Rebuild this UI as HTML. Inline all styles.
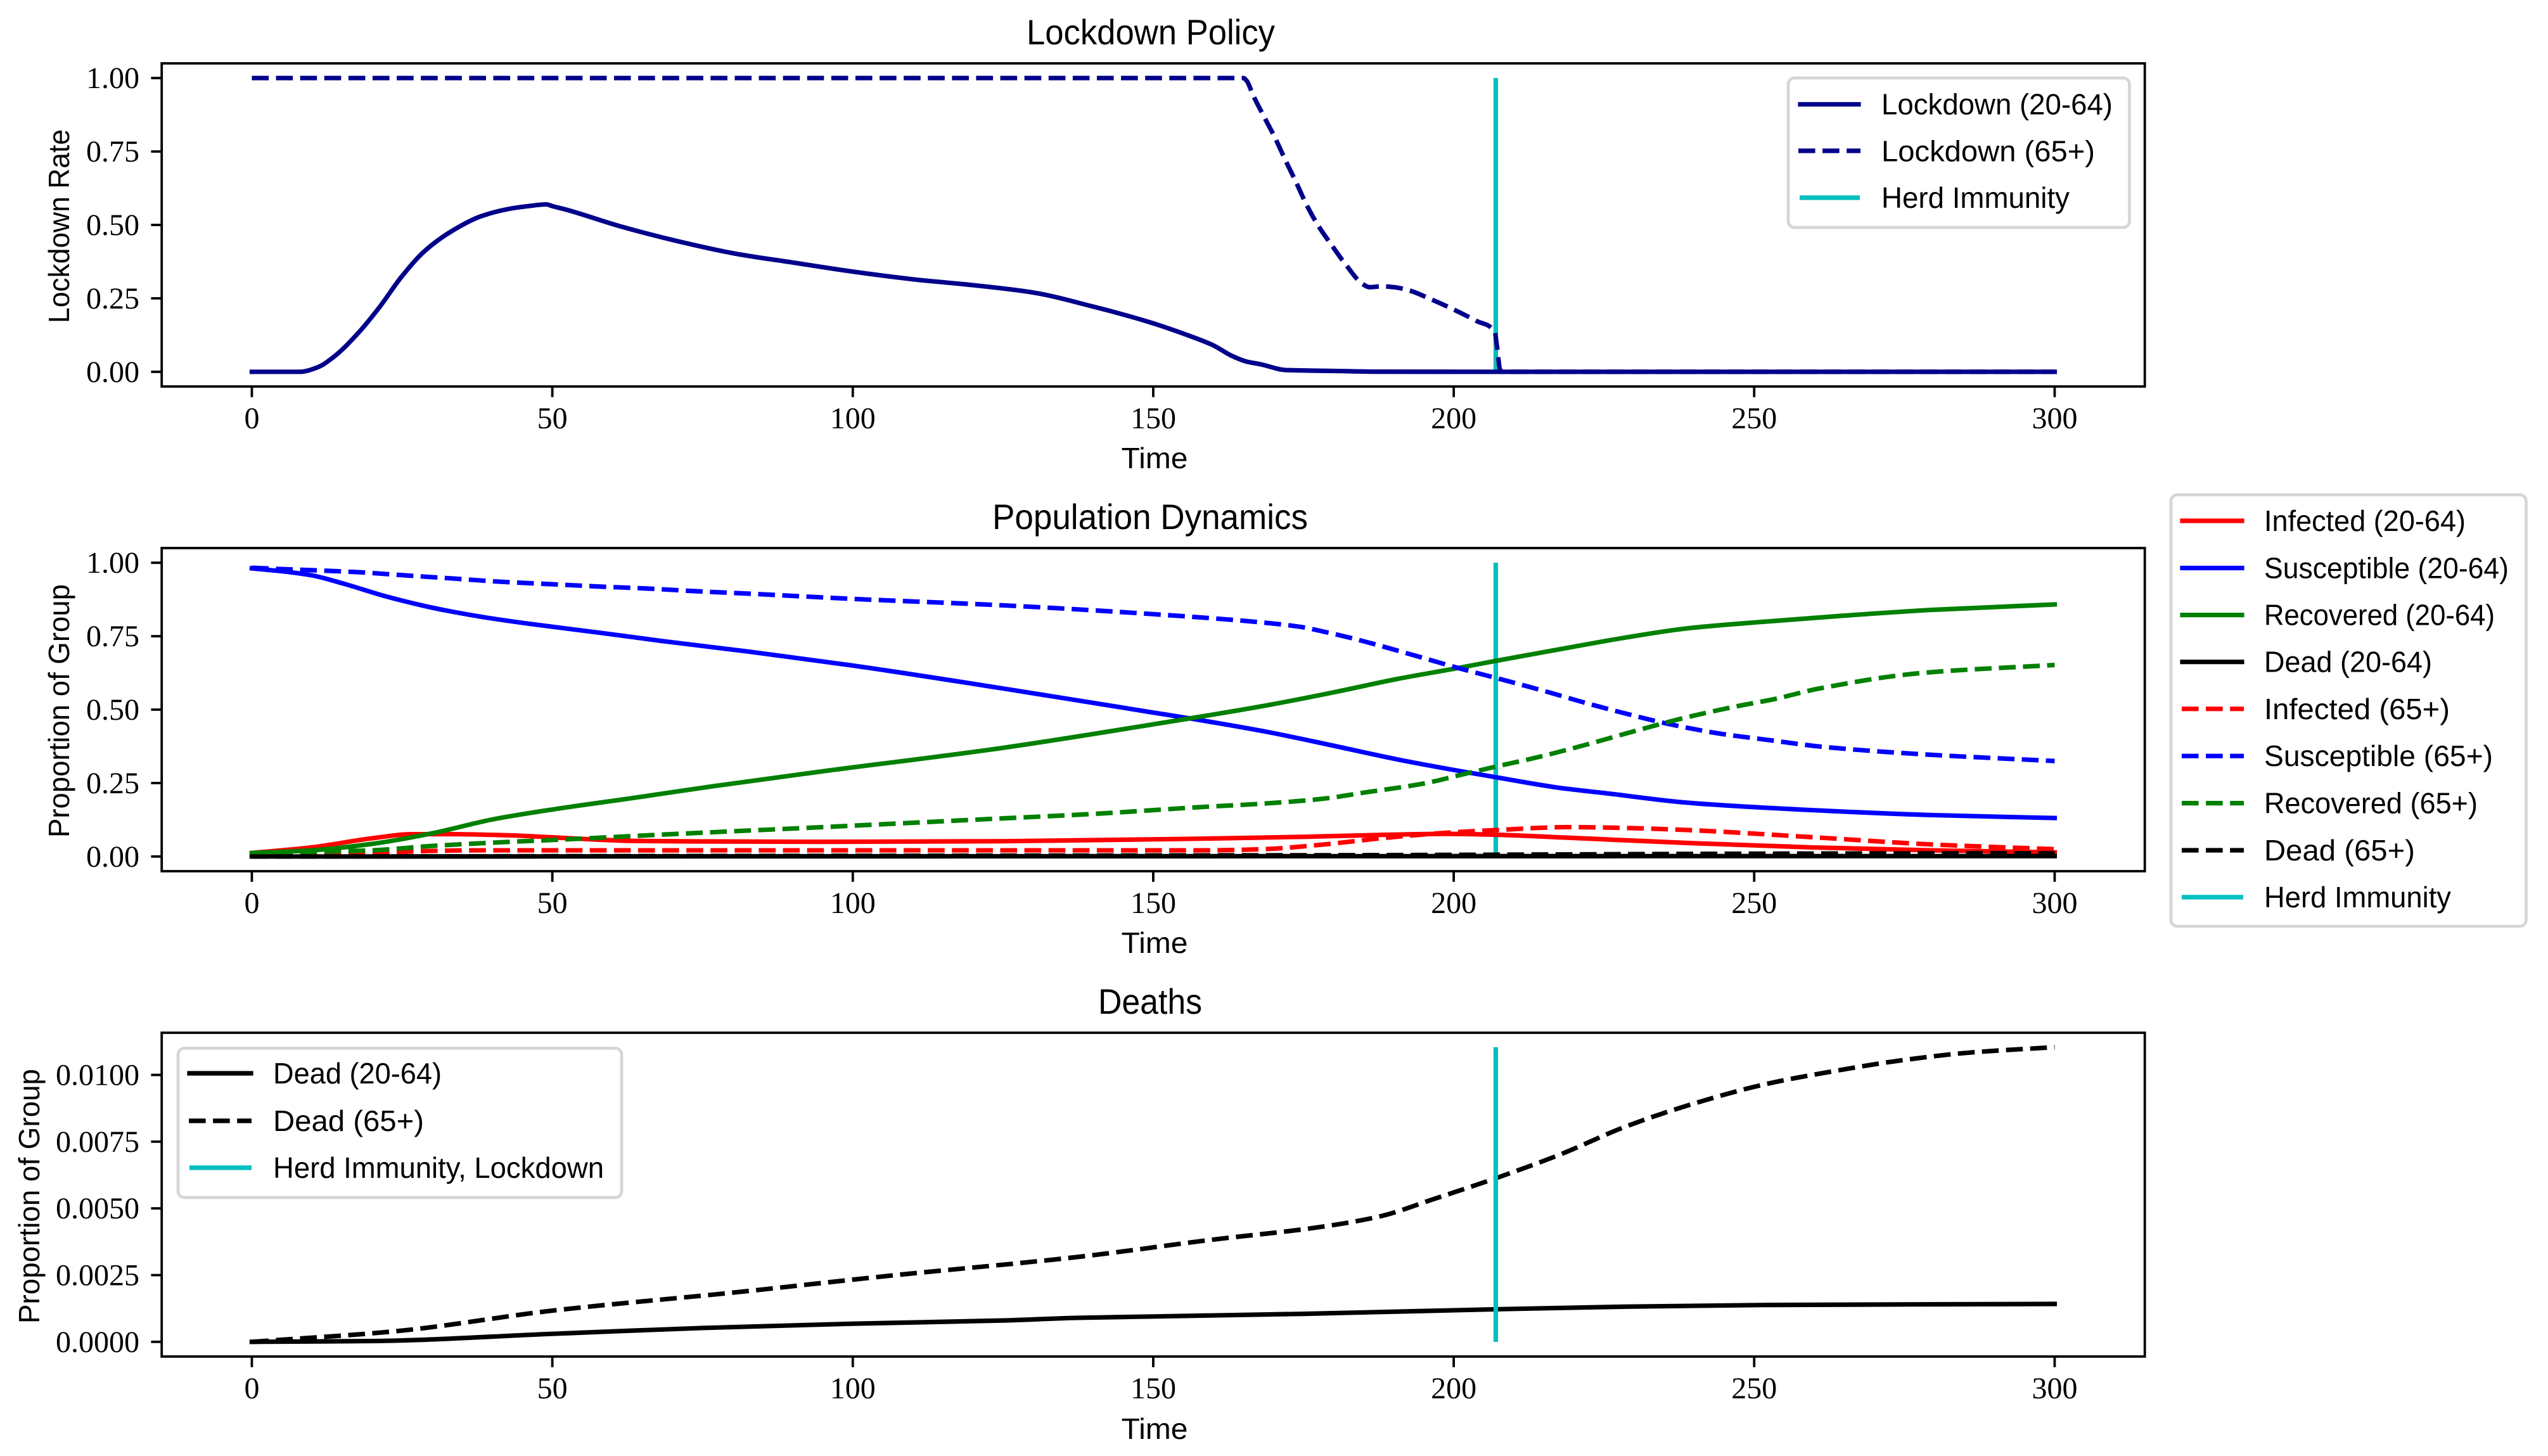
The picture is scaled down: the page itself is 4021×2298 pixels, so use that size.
<!DOCTYPE html>
<html lang="en">
<head>
<meta charset="utf-8">
<title>Lockdown Policy, Population Dynamics and Deaths</title>
<style>
html,body{margin:0;padding:0;background:#fff;}
svg{display:block;}
.sans{font-family:"Liberation Sans",sans-serif;fill:#000;}
.serif{font-family:"Liberation Serif",serif;fill:#000;}
.lg{font-size:46.5px;}
.ti{font-size:56px;text-anchor:middle;}
.ax{font-size:46.5px;text-anchor:middle;}
.frame{fill:rgba(255,255,255,.8);stroke:rgba(204,204,204,.8);stroke-width:4.8;}
.h{stroke-width:7.2;fill:none;}
.d{stroke-dasharray:26.6 11.5;}
.s{stroke-linecap:square;}
</style>
</head>
<body>
<svg id="fig" xmlns="http://www.w3.org/2000/svg" width="4021" height="2298" viewBox="0 0 4021 2298">
  <rect width="4021" height="2298" fill="#fff"/>

  <text class="sans ti" x="1816" y="70" textLength="392" lengthAdjust="spacingAndGlyphs">Lockdown Policy</text>
  <text class="sans ti" x="1815" y="835" textLength="498" lengthAdjust="spacingAndGlyphs">Population Dynamics</text>
  <text class="sans ti" x="1815" y="1600" textLength="164" lengthAdjust="spacingAndGlyphs">Deaths</text>

  <text class="sans ax" x="1822" y="739" textLength="105" lengthAdjust="spacingAndGlyphs">Time</text>
  <text class="sans ax" x="1822" y="1504" textLength="105" lengthAdjust="spacingAndGlyphs">Time</text>
  <text class="sans ax" x="1822" y="2271" textLength="105" lengthAdjust="spacingAndGlyphs">Time</text>

  <text class="sans ax" transform="translate(109 357) rotate(-90)" textLength="306" lengthAdjust="spacingAndGlyphs">Lockdown Rate</text>
  <text class="sans ax" transform="translate(109 1122) rotate(-90)" textLength="400" lengthAdjust="spacingAndGlyphs">Proportion of Group</text>
  <text class="sans ax" transform="translate(62 1888) rotate(-90)" textLength="402" lengthAdjust="spacingAndGlyphs">Proportion of Group</text>

  <g id="panel1"></g>
  <g id="panel2"></g>
  <g id="panel3"></g>

  <g>
    <rect class="frame" x="2822" y="123" width="538.5" height="236" rx="10"/>
    <g>
      <line class="h s" x1="2841" x2="2933" y1="164.7" y2="164.7" stroke="#00008b"/>
      <text class="sans lg" x="2969" y="180.5" textLength="365" lengthAdjust="spacingAndGlyphs">Lockdown (20-64)</text>
    </g>
    <g>
      <line class="h d" x1="2838" x2="2936" y1="238" y2="238" stroke="#00008b"/>
      <text class="sans lg" x="2969" y="254.5" textLength="337" lengthAdjust="spacingAndGlyphs">Lockdown (65+)</text>
    </g>
    <g>
      <line class="h" x1="2840" x2="2935" y1="312" y2="312" stroke="#00bfbf"/>
      <text class="sans lg" x="2969" y="328" textLength="297" lengthAdjust="spacingAndGlyphs">Herd Immunity</text>
    </g>
  </g>

  <g>
    <rect class="frame" x="3426" y="781" width="560.5" height="681" rx="10"/>
    <g>
      <line class="h s" x1="3444" x2="3538" y1="822" y2="822" stroke="#ff0000"/>
      <text class="sans lg" x="3573" y="838" textLength="318" lengthAdjust="spacingAndGlyphs">Infected (20-64)</text>
    </g>
    <g>
      <line class="h s" x1="3444" x2="3538" y1="896.5" y2="896.5" stroke="#0000ff"/>
      <text class="sans lg" x="3573" y="912.5" textLength="386" lengthAdjust="spacingAndGlyphs">Susceptible (20-64)</text>
    </g>
    <g>
      <line class="h s" x1="3444" x2="3538" y1="970.6" y2="970.6" stroke="#008000"/>
      <text class="sans lg" x="3573" y="986.6" textLength="364" lengthAdjust="spacingAndGlyphs">Recovered (20-64)</text>
    </g>
    <g>
      <line class="h s" x1="3444" x2="3538" y1="1044.7" y2="1044.7" stroke="#000"/>
      <text class="sans lg" x="3573" y="1060.7" textLength="265" lengthAdjust="spacingAndGlyphs">Dead (20-64)</text>
    </g>
    <g>
      <line class="h d" x1="3443" x2="3541" y1="1118.8" y2="1118.8" stroke="#ff0000"/>
      <text class="sans lg" x="3573" y="1134.8" textLength="293" lengthAdjust="spacingAndGlyphs">Infected (65+)</text>
    </g>
    <g>
      <line class="h d" x1="3443" x2="3541" y1="1193.2" y2="1193.2" stroke="#0000ff"/>
      <text class="sans lg" x="3573" y="1209.2" textLength="361" lengthAdjust="spacingAndGlyphs">Susceptible (65+)</text>
    </g>
    <g>
      <line class="h d" x1="3443" x2="3541" y1="1267.6" y2="1267.6" stroke="#008000"/>
      <text class="sans lg" x="3573" y="1283.6" textLength="337" lengthAdjust="spacingAndGlyphs">Recovered (65+)</text>
    </g>
    <g>
      <line class="h d" x1="3443" x2="3541" y1="1342" y2="1342" stroke="#000"/>
      <text class="sans lg" x="3573" y="1358" textLength="238" lengthAdjust="spacingAndGlyphs">Dead (65+)</text>
    </g>
    <g>
      <line class="h" x1="3443" x2="3540" y1="1416" y2="1416" stroke="#00bfbf"/>
      <text class="sans lg" x="3573" y="1432" textLength="295" lengthAdjust="spacingAndGlyphs">Herd Immunity</text>
    </g>
  </g>

  <g>
    <rect class="frame" x="281" y="1654.5" width="700" height="235.5" rx="10"/>
    <g>
      <line class="h s" x1="299" x2="396" y1="1694" y2="1694" stroke="#000"/>
      <text class="sans lg" x="431" y="1710" textLength="266" lengthAdjust="spacingAndGlyphs">Dead (20-64)</text>
    </g>
    <g>
      <line class="h d" x1="298" x2="397" y1="1769" y2="1769" stroke="#000"/>
      <text class="sans lg" x="431" y="1785" textLength="238" lengthAdjust="spacingAndGlyphs">Dead (65+)</text>
    </g>
    <g>
      <line class="h" x1="299" x2="397" y1="1843" y2="1843" stroke="#00bfbf"/>
      <text class="sans lg" x="431" y="1859" textLength="522" lengthAdjust="spacingAndGlyphs">Herd Immunity, Lockdown</text>
    </g>
  </g>
</svg>

<script>
// ---- tick labels ----
var xTicks = [0, 50, 100, 150, 200, 250, 300];
var rateTicks = [0, 0.25, 0.5, 0.75, 1];
var rateTickLabels = ["0.00", "0.25", "0.50", "0.75", "1.00"];
var deathTicks = [0, 0.0025, 0.005, 0.0075, 0.01];
var deathTickLabels = ["0.0000", "0.0025", "0.0050", "0.0075", "0.0100"];

// ---- herd immunity day ----
var herdImmunityDay = 207;

// ---- lockdown policy ----
var lockdownYoungDays = [0, 8, 10.9, 13.7, 17.5, 21.2, 25, 28.8, 33.5, 38.2, 42.9, 46, 49, 50, 52.3, 61.7, 71, 80.5, 90, 100, 110, 120, 130, 140, 145, 150, 155, 160, 163, 165.5, 168, 172, 180, 187, 207, 300];
var lockdownYoungValues = [0, 0, 0.015, 0.052, 0.1275, 0.219, 0.326, 0.412, 0.482, 0.53, 0.555, 0.564, 0.57, 0.564, 0.552, 0.493, 0.444, 0.402, 0.372, 0.341, 0.315, 0.295, 0.27, 0.222, 0.195, 0.165, 0.13, 0.09, 0.055, 0.035, 0.025, 0.006, 0.003, 0.0005, 0, 0];
var lockdownOldDays = [0, 165, 165.6, 166.6, 168.5, 170.3, 172, 173.8, 175.5, 177.5, 179.8, 182.1, 184.9, 186, 188.1, 190.1, 192.6, 196.1, 200, 203.7, 206.8, 207.2, 207.7, 208, 300];
var lockdownOldValues = [1, 1, 0.989, 0.942, 0.866, 0.795, 0.72, 0.644, 0.569, 0.496, 0.428, 0.363, 0.298, 0.288, 0.291, 0.288, 0.277, 0.248, 0.212, 0.174, 0.138, 0.086, 0.008, 0, 0];

// ---- population dynamics, 20-64 ----
var infectedYoungDays = [0, 9.9, 20, 26.7, 33, 43, 53, 63.7, 95, 125, 158.5, 175, 188.8, 199, 207, 219, 239, 259.5, 279.6, 300];
var infectedYoungValues = [0.012, 0.031, 0.062, 0.076, 0.076, 0.072, 0.062, 0.053, 0.05, 0.052, 0.061, 0.067, 0.074, 0.077, 0.074, 0.064, 0.046, 0.031, 0.021, 0.014];
var susceptibleYoungDays = [0, 6.3, 10, 15.4, 22.4, 28.9, 33.2, 39.1, 46.6, 57.4, 68.1, 82.5, 100, 125, 150, 157, 169, 179.8, 190.5, 202.4, 207, 217.5, 225.5, 239, 259.5, 279.6, 300];
var susceptibleYoungValues = [0.981, 0.968, 0.957, 0.928, 0.885, 0.852, 0.834, 0.813, 0.791, 0.763, 0.734, 0.698, 0.65, 0.572, 0.49, 0.467, 0.424, 0.378, 0.331, 0.286, 0.27, 0.234, 0.215, 0.183, 0.158, 0.141, 0.131];
var recoveredYoungDays = [0, 9.9, 20, 30, 40, 50, 63.7, 77, 95, 125, 150, 169, 179.8, 190.5, 200.8, 207, 217.5, 228.2, 239, 253.4, 265, 280, 300];
var recoveredYoungValues = [0.012, 0.021, 0.043, 0.079, 0.126, 0.16, 0.2, 0.24, 0.29, 0.37, 0.45, 0.515, 0.558, 0.604, 0.642, 0.666, 0.705, 0.744, 0.777, 0.802, 0.82, 0.84, 0.858];

// ---- population dynamics, 65+ ----
var infectedOldDays = [0, 20, 28, 37, 95, 158.5, 168.3, 178.4, 188.8, 199, 207, 219, 229, 239, 259.5, 279.6, 300];
var infectedOldValues = [0.005, 0.01, 0.018, 0.021, 0.021, 0.021, 0.025, 0.041, 0.064, 0.081, 0.09, 0.1, 0.097, 0.09, 0.066, 0.041, 0.025];
var susceptibleOldDays = [0, 5.5, 9.5, 17.6, 25.6, 33.7, 41.7, 49.8, 57.8, 66, 74, 82.5, 100, 125, 150, 169, 174.4, 178.7, 182.5, 186.6, 194.4, 201.4, 207, 214.8, 222.8, 229.3, 235.8, 244.4, 253.4, 260.6, 278, 300];
var susceptibleOldValues = [0.983, 0.978, 0.975, 0.968, 0.957, 0.946, 0.935, 0.927, 0.919, 0.912, 0.903, 0.895, 0.877, 0.855, 0.825, 0.795, 0.782, 0.764, 0.746, 0.724, 0.679, 0.638, 0.608, 0.565, 0.518, 0.483, 0.451, 0.418, 0.394, 0.375, 0.348, 0.325];
var recoveredOldDays = [0, 20, 30, 43, 53, 63.7, 77, 95, 120, 140, 158.5, 168.3, 178.4, 185.2, 194.9, 202.4, 207, 214.8, 222.8, 231, 239, 247, 253.4, 260.6, 278, 300];
var recoveredOldValues = [0.012, 0.021, 0.036, 0.05, 0.059, 0.07, 0.083, 0.1, 0.125, 0.145, 0.169, 0.18, 0.197, 0.218, 0.248, 0.284, 0.306, 0.342, 0.385, 0.432, 0.475, 0.511, 0.536, 0.571, 0.625, 0.652];

// ---- deaths ----
var deadYoungDays = [0, 20, 50, 75, 100, 125, 137.4, 150, 175, 207, 228.9, 251.8, 300];
var deadYoungValues = [0, 0.00003, 0.0003, 0.00052, 0.00068, 0.0008, 0.0009, 0.00095, 0.00105, 0.00122, 0.00132, 0.00138, 0.00142];
var deadOldDays = [0, 24, 50, 80.7, 105.8, 137.4, 160.3, 177.4, 187.7, 196.8, 207, 217.4, 228.9, 240.3, 251.8, 263.2, 274.6, 286, 300];
var deadOldValues = [0, 0.0004, 0.00117, 0.00186, 0.00247, 0.00318, 0.00384, 0.00429, 0.0047, 0.00536, 0.00613, 0.00699, 0.00809, 0.00895, 0.00965, 0.01014, 0.01055, 0.01084, 0.01104];

var SVGNS = "http://www.w3.org/2000/svg";
var AX_LEFT = 255.2, AX_RIGHT = 3384.7, X_MIN = -15, X_MAX = 315;
var TICK_LEN = 16.8, SPINE = 3.8;

function xScale(v) {
  return AX_LEFT + (v - X_MIN) / (X_MAX - X_MIN) * (AX_RIGHT - AX_LEFT);
}
function makeYScale(top, bottom, lo, hi) {
  return function (v) { return bottom - (v - lo) / (hi - lo) * (bottom - top); };
}
function make(tag, parent) {
  var el = document.createElementNS(SVGNS, tag);
  parent.appendChild(el);
  return el;
}
function monotonePath(px, py) {
  var n = px.length, i, d = [], m = [];
  for (i = 0; i < n - 1; i++) d.push((py[i + 1] - py[i]) / (px[i + 1] - px[i]));
  m.push(d[0]);
  for (i = 1; i < n - 1; i++) {
    if (d[i - 1] * d[i] <= 0) { m.push(0); continue; }
    var h0 = px[i] - px[i - 1], h1 = px[i + 1] - px[i];
    m.push((h0 + h1) * 3 / ((2 * h1 + h0) / d[i - 1] + (h1 + 2 * h0) / d[i]));
  }
  m.push(d[n - 2]);
  var p = "M" + px[0].toFixed(2) + " " + py[0].toFixed(2);
  for (i = 0; i < n - 1; i++) {
    var h = (px[i + 1] - px[i]) / 3;
    p += "C" + (px[i] + h).toFixed(2) + " " + (py[i] + m[i] * h).toFixed(2) + " " +
      (px[i + 1] - h).toFixed(2) + " " + (py[i + 1] - m[i + 1] * h).toFixed(2) + " " +
      px[i + 1].toFixed(2) + " " + py[i + 1].toFixed(2);
  }
  return p;
}
function drawSeries(parent, yScale, days, values, color, dashed, name) {
  var path = make("path", parent);
  
  
  path.setAttribute("d", monotonePath(days.map(xScale), values.map(yScale)));
  path.setAttribute("fill", "none");
  path.setAttribute("stroke", color);
  path.setAttribute("stroke-width", "7.2");
  path.setAttribute("stroke-linejoin", "round");
  if (dashed) {
    path.setAttribute("stroke-dasharray", "26.6 11.5");
  } else {
    path.setAttribute("stroke-linecap", "square");
  }
}
function drawHerdLine(parent, yScale, lo, hi) {
  var ln = make("line", parent);
  
  
  ln.setAttribute("x1", xScale(herdImmunityDay));
  ln.setAttribute("x2", xScale(herdImmunityDay));
  ln.setAttribute("y1", yScale(lo));
  ln.setAttribute("y2", yScale(hi));
  ln.setAttribute("stroke", "#00bfbf");
  ln.setAttribute("stroke-width", "7.2");
}
function drawAxes(parent, top, bottom, yScale, yTickValues, yTickLabels) {
  var frame = make("rect", parent);
  
  
  frame.setAttribute("x", AX_LEFT);
  frame.setAttribute("y", top);
  frame.setAttribute("width", AX_RIGHT - AX_LEFT);
  frame.setAttribute("height", bottom - top);
  frame.setAttribute("fill", "none");
  frame.setAttribute("stroke", "#000");
  frame.setAttribute("stroke-width", SPINE);
  xTicks.forEach(function (v) {
    var t = make("line", parent);
    
    
    t.setAttribute("x1", xScale(v));
    t.setAttribute("x2", xScale(v));
    t.setAttribute("y1", bottom);
    t.setAttribute("y2", bottom + TICK_LEN);
    t.setAttribute("stroke", "#000");
    t.setAttribute("stroke-width", SPINE);
    var l = make("text", parent);
    
    
    l.setAttribute("class", "serif");
    l.setAttribute("x", xScale(v));
    l.setAttribute("y", bottom + 66);
    l.setAttribute("font-size", "48");
    l.setAttribute("text-anchor", "middle");
    l.textContent = String(v);
  });
  yTickValues.forEach(function (v, i) {
    var t = make("line", parent);
    
    
    t.setAttribute("x1", AX_LEFT - TICK_LEN);
    t.setAttribute("x2", AX_LEFT);
    t.setAttribute("y1", yScale(v));
    t.setAttribute("y2", yScale(v));
    t.setAttribute("stroke", "#000");
    t.setAttribute("stroke-width", SPINE);
    var l = make("text", parent);
    
    
    l.setAttribute("class", "serif");
    l.setAttribute("x", 220);
    l.setAttribute("y", yScale(v) + 16);
    l.setAttribute("font-size", "48");
    l.setAttribute("text-anchor", "end");
    l.textContent = yTickLabels[i];
  });
}

var y1 = makeYScale(100, 610, -0.05, 1.05);
var y2 = makeYScale(865, 1375, -0.05, 1.05);
var y3 = makeYScale(1630, 2141, -0.00055, 0.01158);

var p1 = document.getElementById("panel1");
drawHerdLine(p1, y1, 0, 1);
drawSeries(p1, y1, lockdownOldDays, lockdownOldValues, "#00008b", true, "lockdown-65-line");
drawSeries(p1, y1, lockdownYoungDays, lockdownYoungValues, "#00008b", false, "lockdown-20-64-line");
drawAxes(p1, 100, 610, y1, rateTicks, rateTickLabels);

var p2 = document.getElementById("panel2");
drawHerdLine(p2, y2, 0, 1);
drawSeries(p2, y2, infectedYoungDays, infectedYoungValues, "#ff0000", false, "infected-20-64-line");
drawSeries(p2, y2, susceptibleYoungDays, susceptibleYoungValues, "#0000ff", false, "susceptible-20-64-line");
drawSeries(p2, y2, recoveredYoungDays, recoveredYoungValues, "#008000", false, "recovered-20-64-line");
drawSeries(p2, y2, deadYoungDays, deadYoungValues, "#000000", false, "dead-20-64-line");
drawSeries(p2, y2, infectedOldDays, infectedOldValues, "#ff0000", true, "infected-65-line");
drawSeries(p2, y2, susceptibleOldDays, susceptibleOldValues, "#0000ff", true, "susceptible-65-line");
drawSeries(p2, y2, recoveredOldDays, recoveredOldValues, "#008000", true, "recovered-65-line");
drawSeries(p2, y2, deadOldDays, deadOldValues, "#000000", true, "dead-65-line");
drawAxes(p2, 865, 1375, y2, rateTicks, rateTickLabels);

var p3 = document.getElementById("panel3");
drawSeries(p3, y3, deadYoungDays, deadYoungValues, "#000000", false, "dead-20-64-line");
drawSeries(p3, y3, deadOldDays, deadOldValues, "#000000", true, "dead-65-line");
drawHerdLine(p3, y3, 0, deadOldValues[deadOldValues.length - 1]);
drawAxes(p3, 1630, 2141, y3, deathTicks, deathTickLabels);
</script>
</body>
</html>
